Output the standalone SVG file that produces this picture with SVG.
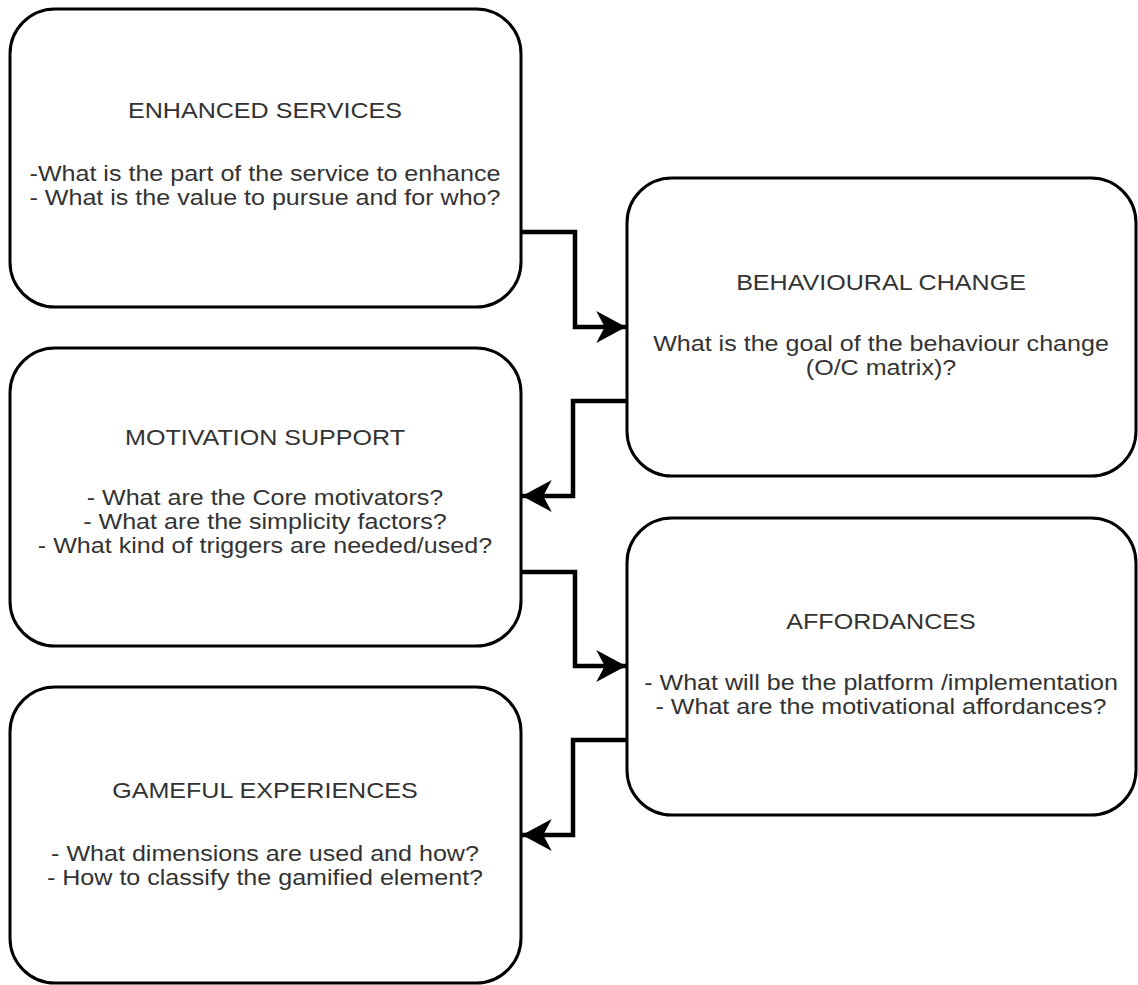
<svg xmlns="http://www.w3.org/2000/svg" width="1138" height="985" viewBox="0 0 1138 985">
  <defs>
    <style>
      .box { fill: #ffffff; stroke: #000000; stroke-width: 3; }
      .title, .body { font-family: "Liberation Sans", Arial, sans-serif; font-size: 22px; fill: #333333; text-anchor: middle; }
      .link { fill: none; stroke: #000000; stroke-width: 4.5; stroke-linejoin: miter; }
    </style>
    <marker id="arrow" markerUnits="userSpaceOnUse" markerWidth="32" markerHeight="34" viewBox="0 -16 30 32" refX="28" refY="0" orient="auto" overflow="visible">
      <path d="M0,-15 L28,0 L0,15 L8,0 Z" fill="#000000"/>
    </marker>
  </defs>

  <rect width="1138" height="985" fill="#ffffff"/>

  <!-- flow connectors between stages -->
  <g id="connectors">
    <path class="link" d="M521,232 H575 V327 H626" marker-end="url(#arrow)"/>
    <path class="link" d="M627,401 H573 V496 H522" marker-end="url(#arrow)"/>
    <path class="link" d="M521,572 H575 V666 H626" marker-end="url(#arrow)"/>
    <path class="link" d="M627,740 H573 V835 H522" marker-end="url(#arrow)"/>
  </g>

  <!-- labels are drawn slightly widened around each box's centre line -->
  <g id="enhanced-services">
    <rect class="box" x="10" y="9" width="511" height="298" rx="45" ry="45"/>
    <g transform="translate(265,0) scale(1.14,1)">
      <text class="title" x="0" y="118">ENHANCED SERVICES</text>
      <text class="body" x="0" y="181">-What is the part of the service to enhance</text>
      <text class="body" x="0" y="205">- What is the value to pursue and for who?</text>
    </g>
  </g>

  <g id="behavioural-change">
    <rect class="box" x="627" y="178" width="509" height="298" rx="45" ry="45"/>
    <g transform="translate(881,0) scale(1.14,1)">
      <text class="title" x="0" y="290">BEHAVIOURAL CHANGE</text>
      <text class="body" x="0" y="351">What is the goal of the behaviour change</text>
      <text class="body" x="0" y="375">(O/C matrix)?</text>
    </g>
  </g>

  <g id="motivation-support">
    <rect class="box" x="10" y="348" width="511" height="298" rx="45" ry="45"/>
    <g transform="translate(265,0) scale(1.14,1)">
      <text class="title" x="0" y="445">MOTIVATION SUPPORT</text>
      <text class="body" x="0" y="505">- What are the Core motivators?</text>
      <text class="body" x="0" y="529">- What are the simplicity factors?</text>
      <text class="body" x="0" y="553">- What kind of triggers are needed/used?</text>
    </g>
  </g>

  <g id="affordances">
    <rect class="box" x="627" y="518" width="509" height="297" rx="45" ry="45"/>
    <g transform="translate(881,0) scale(1.14,1)">
      <text class="title" x="0" y="629">AFFORDANCES</text>
      <text class="body" x="0" y="690">- What will be the platform /implementation</text>
      <text class="body" x="0" y="714">- What are the motivational affordances?</text>
    </g>
  </g>

  <g id="gameful-experiences">
    <rect class="box" x="10" y="687" width="511" height="296" rx="45" ry="45"/>
    <g transform="translate(265,0) scale(1.14,1)">
      <text class="title" x="0" y="798">GAMEFUL EXPERIENCES</text>
      <text class="body" x="0" y="861">- What dimensions are used and how?</text>
      <text class="body" x="0" y="885">- How to classify the gamified element?</text>
    </g>
  </g>
</svg>
